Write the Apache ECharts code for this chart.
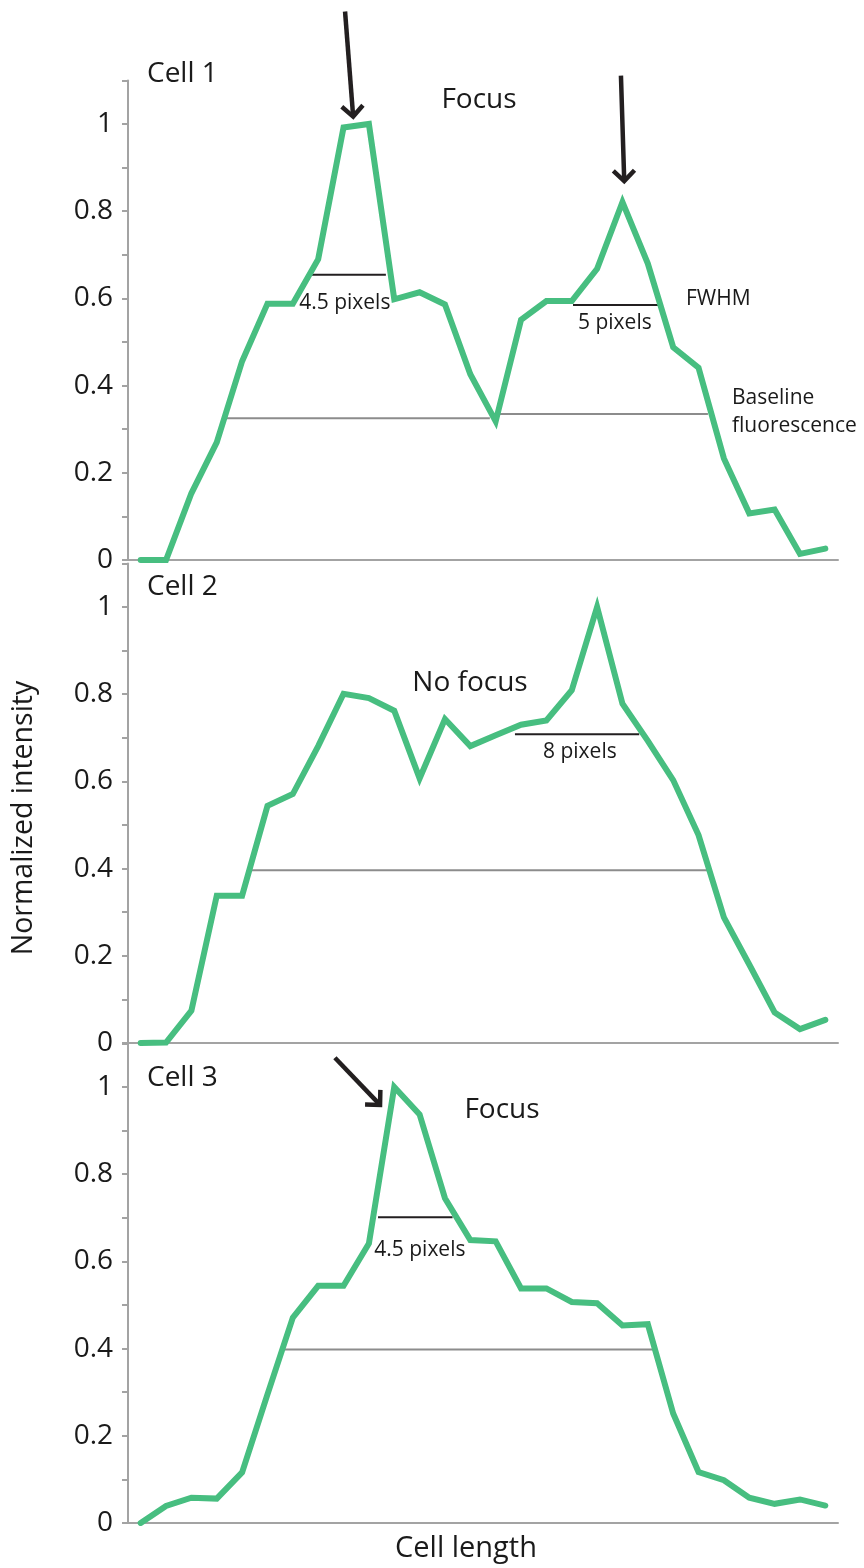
<!DOCTYPE html>
<html>
<head>
<meta charset="utf-8">
<script src="https://cdn.jsdelivr.net/npm/echarts@6/dist/echarts.min.js"></script>
<style>
  html, body { margin: 0; padding: 0; background: #fff; }
  #chart { width: 864px; height: 1568px; }
</style>
</head>
<body>
<div id="chart"></div>
<script>
  // pixel position along the cell (x) for every profile
  var positions = [0, 1, 2, 3, 4, 5, 6, 7, 8, 9, 10, 11, 12, 13, 14, 15, 16, 17, 18, 19, 20, 21, 22, 23, 24, 25, 26, 27];
  // normalized intensity profiles
  var cell1 = [0, 0, 0.153, 0.27, 0.456, 0.588, 0.588, 0.69, 0.992, 1.0, 0.598, 0.614, 0.586, 0.426, 0.318, 0.551, 0.594, 0.594, 0.668, 0.821, 0.68, 0.488, 0.441, 0.233, 0.107, 0.116, 0.014, 0.026];
  var cell2 = [0, 0.001, 0.074, 0.338, 0.338, 0.544, 0.571, 0.681, 0.801, 0.791, 0.762, 0.607, 0.743, 0.681, 0.706, 0.73, 0.74, 0.809, 1.0, 0.778, 0.693, 0.603, 0.477, 0.288, 0.18, 0.07, 0.032, 0.053];
  var cell3 = [0, 0.039, 0.058, 0.056, 0.116, 0.295, 0.471, 0.544, 0.544, 0.641, 1.0, 0.937, 0.745, 0.649, 0.646, 0.538, 0.538, 0.507, 0.504, 0.453, 0.456, 0.251, 0.117, 0.098, 0.058, 0.044, 0.054, 0.04];
  var yTicks = [0, 0.2, 0.4, 0.6, 0.8, 1];

  // baseline fluorescence segments per cell: [x start, x end, level]
  var baseline1 = [[3.32, 13.77, 0.325], [13.77, 22.37, 0.335]];
  var baseline2 = [[4.38, 22.37, 0.396]];
  var baseline3 = [[5.69, 20.21, 0.398]];
  // FWHM segments per cell: [x start, x end, level, label]
  var fwhm1 = [[6.74, 9.67, 0.654, '4.5 pixels'], [17.05, 20.41, 0.585, '5 pixels']];
  var fwhm2 = [[14.76, 19.66, 0.708, '8 pixels']];
  var fwhm3 = [[9.36, 12.30, 0.701, '4.5 pixels']];

  var cells = [cell1, cell2, cell3];
  var baselines = [baseline1, baseline2, baseline3];
  var fwhms = [fwhm1, fwhm2, fwhm3];

  var green = '#47be80';
  var axisGray = '#a3a3a3';
  var ink = '#1a1a1a';
  var font = '"Open Sans", "Noto Sans", sans-serif';

  var grids = [], xAxes = [], yAxes = [], series = [];
  var tops = [80.4, 563.4, 1043.4];
  tops.forEach(function (top, i) {
    grids.push({ left: 128, right: 26, top: top, height: 479.6 });
    xAxes.push({
      type: 'value', gridIndex: i, min: -0.5, max: 27.5,
      axisLine: { show: true, lineStyle: { color: axisGray, width: 2 } },
      axisTick: { show: false }, axisLabel: { show: false }, splitLine: { show: false }
    });
    yAxes.push({
      type: 'value', gridIndex: i, min: 0, max: 1.1, interval: 0.1,
      axisLine: { show: true, onZero: false, lineStyle: { color: axisGray, width: 2 } },
      axisTick: { show: true, length: 6, lineStyle: { color: axisGray, width: 2 } },
      splitLine: { show: false },
      axisLabel: {
        margin: 15, fontSize: 28, color: ink, fontFamily: font,
        formatter: function (v) {
          var hit = yTicks.some(function (t) { return Math.abs(t - v) < 1e-6; });
          return hit ? String(Math.round(v * 10) / 10) : '';
        }
      }
    });
    // gray baseline levels
    baselines[i].forEach(function (b) {
      series.push({
        type: 'line', xAxisIndex: i, yAxisIndex: i, z: 1, showSymbol: false, silent: true,
        data: [[b[0], b[2]], [b[1], b[2]]],
        lineStyle: { color: '#8c8c8c', width: 2 }
      });
    });
    // black FWHM bars
    fwhms[i].forEach(function (f) {
      series.push({
        type: 'line', xAxisIndex: i, yAxisIndex: i, z: 1, showSymbol: false, silent: true,
        data: [[f[0], f[2]], [f[1], f[2]]],
        lineStyle: { color: '#231f20', width: 2 }
      });
    });
    // the profile itself
    series.push({
      type: 'line', xAxisIndex: i, yAxisIndex: i, z: 3, showSymbol: false, silent: true,
      data: positions.map(function (p, k) { return [p, cells[i][k]]; }),
      lineStyle: { color: green, width: 6, cap: 'round', join: 'miter' }
    });
  });

  var chart = echarts.init(document.getElementById('chart'), null, { renderer: 'canvas' });
  chart.setOption({
    animation: false,
    backgroundColor: '#fff',
    grid: grids, xAxis: xAxes, yAxis: yAxes, series: series
  });

  // annotation arrows in data coords of each panel: [panel, tail x, tail y, tip x, tip y]
  var arrows = [[0, 8.06, 1.258, 8.38, 1.017], [0, 18.94, 1.111, 19.07, 0.869], [2, 7.66, 1.067, 9.44, 0.959]];
  // FWHM labels under their bars: [panel, x, y]
  var fwhmLabelAt = [[0, 8.05, 0.589], [0, 18.70, 0.544], [1, 17.32, 0.667], [2, 11.01, 0.626]];

  var graphic = [];
  function txt(x, y, s, size, align, rot) {
    graphic.push({
      type: 'text', x: x, y: y, rotation: rot || 0, silent: true,
      style: { text: s, fontSize: size, fontFamily: font, fill: ink, align: align || 'left', verticalAlign: 'middle' }
    });
  }
  txt(147, 74, 'Cell 1', 28);
  txt(479, 100, 'Focus', 28, 'center');
  txt(686, 299, 'FWHM', 21);
  txt(732, 398, 'Baseline', 21);
  txt(732, 426, 'fluorescence', 21);
  txt(147, 587, 'Cell 2', 28);
  txt(470, 683, 'No focus', 28, 'center');
  txt(147, 1078, 'Cell 3', 28);
  txt(502, 1110, 'Focus', 28, 'center');
  txt(24, 818, 'Normalized intensity', 28.5, 'center', Math.PI / 2);
  txt(466, 1549, 'Cell length', 29, 'center');

  var labels = [fwhm1[0][3], fwhm1[1][3], fwhm2[0][3], fwhm3[0][3]];
  fwhmLabelAt.forEach(function (l, k) {
    var p = chart.convertToPixel({ gridIndex: l[0] }, [l[1], l[2]]);
    txt(p[0], p[1], labels[k], 21, 'center');
  });

  arrows.forEach(function (a) {
    var t = chart.convertToPixel({ gridIndex: a[0] }, [a[1], a[2]]);
    var h = chart.convertToPixel({ gridIndex: a[0] }, [a[3], a[4]]);
    var dx = h[0] - t[0], dy = h[1] - t[1];
    var len = Math.sqrt(dx * dx + dy * dy);
    var ux = dx / len, uy = dy / len;
    var arm = 15, ang = Math.PI / 4;
    function rot(th) {
      var c = Math.cos(th), s = Math.sin(th);
      return [h[0] - arm * (ux * c - uy * s), h[1] - arm * (ux * s + uy * c)];
    }
    graphic.push({
      type: 'polyline', silent: true,
      shape: { points: [t, h] },
      style: { stroke: '#231f20', lineWidth: 4.5, fill: null }
    });
    graphic.push({
      type: 'polyline', silent: true,
      shape: { points: [rot(ang), h, rot(-ang)] },
      style: { stroke: '#231f20', lineWidth: 4.5, fill: null, lineJoin: 'miter' }
    });
  });

  chart.setOption({ graphic: graphic });
</script>
</body>
</html>
